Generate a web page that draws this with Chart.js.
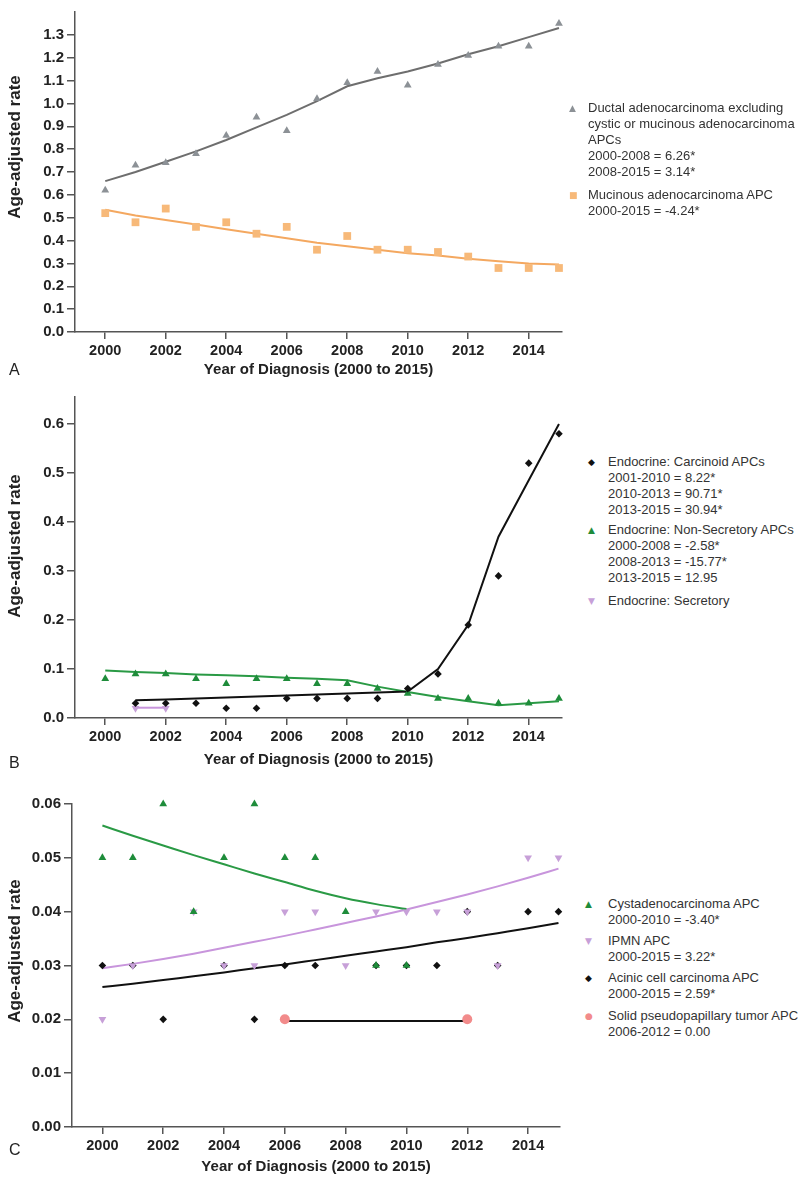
<!DOCTYPE html>
<html>
<head>
<meta charset="utf-8">
<script src="https://cdn.jsdelivr.net/npm/chart.js@4.4.1/dist/chart.umd.min.js"></script>
<style>
body { margin: 0; background: #fff; }
#page { position: relative; width: 800px; height: 1179px; font-family: "Liberation Sans", Arial, sans-serif; }
canvas { position: absolute; left: 0; }
.leg { position: absolute; font-size: 13px; line-height: 16px; color: #333; white-space: nowrap; }
.mk { position: absolute; font-family: "DejaVu Sans", sans-serif; font-size: 9px; line-height: 16px; }
.letter { position: absolute; font-size: 16px; color: #222; }
.ytitle { position: absolute; width: 200px; height: 20px; line-height: 20px; text-align: center;
          font-size: 17px; font-weight: bold; color: #222; transform: rotate(-90deg); }
</style>
</head>
<body>
<div id="page">
  <canvas id="chartA" width="575" height="380" style="top:0"></canvas>
  <canvas id="chartB" width="575" height="385" style="top:385px"></canvas>
  <canvas id="chartC" width="575" height="409" style="top:770px"></canvas>

  <div class="ytitle" style="left:-85px;top:137px">Age-adjusted rate</div>
  <div class="ytitle" style="left:-85px;top:536px">Age-adjusted rate</div>
  <div class="ytitle" style="left:-85px;top:941px">Age-adjusted rate</div>

  <div class="letter" style="left:9px;top:361px">A</div>
  <div class="letter" style="left:9px;top:754px">B</div>
  <div class="letter" style="left:9px;top:1141px">C</div>

  <!-- legend A -->
  <span class="mk" style="left:569px;top:100px;color:#8c9196">&#9650;</span>
  <div class="leg" style="left:588px;top:100px">Ductal adenocarcinoma excluding<br>cystic or mucinous adenocarcinoma<br>APCs<br>2000-2008 = 6.26*<br>2008-2015 = 3.14*</div>
  <span class="mk" style="left:569px;top:187px;color:#f7b979">&#9632;</span>
  <div class="leg" style="left:588px;top:187px">Mucinous adenocarcinoma APC<br>2000-2015 = -4.24*</div>

  <!-- legend B -->
  <span class="mk" style="left:588px;top:454px;color:#111">&#9670;</span>
  <div class="leg" style="left:608px;top:454px">Endocrine: Carcinoid APCs<br>2001-2010 = 8.22*<br>2010-2013 = 90.71*<br>2013-2015 = 30.94*</div>
  <span class="mk" style="left:588px;top:522px;color:#1e8c3a">&#9650;</span>
  <div class="leg" style="left:608px;top:522px">Endocrine: Non-Secretory APCs<br>2000-2008 = -2.58*<br>2008-2013 = -15.77*<br>2013-2015 = 12.95</div>
  <span class="mk" style="left:588px;top:593px;color:#c7a0d8">&#9660;</span>
  <div class="leg" style="left:608px;top:593px">Endocrine: Secretory</div>

  <!-- legend C -->
  <span class="mk" style="left:585px;top:896px;color:#1e8c3a">&#9650;</span>
  <div class="leg" style="left:608px;top:896px">Cystadenocarcinoma APC<br>2000-2010 = -3.40*</div>
  <span class="mk" style="left:585px;top:933px;color:#c7a0d8">&#9660;</span>
  <div class="leg" style="left:608px;top:933px">IPMN APC<br>2000-2015 = 3.22*</div>
  <span class="mk" style="left:585px;top:970px;color:#111">&#9670;</span>
  <div class="leg" style="left:608px;top:970px">Acinic cell carcinoma APC<br>2000-2015 = 2.59*</div>
  <span class="mk" style="left:585px;top:1008px;color:#f28b8b">&#9679;</span>
  <div class="leg" style="left:608px;top:1008px">Solid pseudopapillary tumor APC<br>2006-2012 = 0.00</div>
</div>

<script>
// years of diagnosis and x tick labels
const years = [2000, 2001, 2002, 2003, 2004, 2005, 2006, 2007, 2008, 2009, 2010, 2011, 2012, 2013, 2014, 2015];
const xTicks = [2000, 2002, 2004, 2006, 2008, 2010, 2012, 2014];

// panel A
const ductalRates = [0.62, 0.73, 0.74, 0.78, 0.86, 0.94, 0.88, 1.02, 1.09, 1.14, 1.08, 1.17, 1.21, 1.25, 1.25, 1.35];
const ductalFit = [0.66, 0.70, 0.745, 0.79, 0.84, 0.895, 0.95, 1.01, 1.075, 1.11, 1.14, 1.175, 1.215, 1.25, 1.29, 1.33];
const mucinousRates = [0.52, 0.48, 0.54, 0.46, 0.48, 0.43, 0.46, 0.36, 0.42, 0.36, 0.36, 0.35, 0.33, 0.28, 0.28, 0.28];
const mucinousFit = [0.535, 0.51, 0.49, 0.47, 0.45, 0.43, 0.41, 0.39, 0.375, 0.36, 0.345, 0.335, 0.32, 0.31, 0.30, 0.295];
const yTicksA = [0.0, 0.1, 0.2, 0.3, 0.4, 0.5, 0.6, 0.7, 0.8, 0.9, 1.0, 1.1, 1.2, 1.3];

// panel B
const carcinoidRates = [null, 0.03, 0.03, 0.03, 0.02, 0.02, 0.04, 0.04, 0.04, 0.04, 0.06, 0.09, 0.19, 0.29, 0.52, 0.58];
const carcinoidFit = [null, 0.036, 0.038, 0.040, 0.042, 0.044, 0.046, 0.048, 0.050, 0.052, 0.054, 0.10, 0.19, 0.37, 0.485, 0.60];
const nonSecretoryRates = [0.08, 0.09, 0.09, 0.08, 0.07, 0.08, 0.08, 0.07, 0.07, 0.06, 0.05, 0.04, 0.04, 0.03, 0.03, 0.04];
const nonSecretoryFit = [0.097, 0.094, 0.092, 0.089, 0.087, 0.085, 0.082, 0.080, 0.077, 0.064, 0.053, 0.043, 0.034, 0.026, 0.030, 0.034];
const secretoryRates = [null, 0.02, 0.02, null, null, null, null, null, null, null, null, null, null, null, null, null];
const secretoryFit = [null, 0.021, 0.021, null, null, null, null, null, null, null, null, null, null, null, null, null];
const yTicksB = [0.0, 0.1, 0.2, 0.3, 0.4, 0.5, 0.6];

// panel C
const cystRates = [0.05, 0.05, 0.06, 0.04, 0.05, 0.06, 0.05, 0.05, 0.04, 0.03, 0.03, null, null, null, null, null];
const cystFit = [0.056, 0.0541, 0.0523, 0.0505, 0.0488, 0.0471, 0.0455, 0.0439, 0.0425, 0.0414, 0.0405, null, null, null, null, null];
const ipmnRates = [0.02, 0.03, null, 0.04, 0.03, 0.03, 0.04, 0.04, 0.03, 0.04, 0.04, 0.04, 0.04, 0.03, 0.05, 0.05];
const ipmnFit = [0.0295, 0.0303, 0.0312, 0.0322, 0.0333, 0.0344, 0.0355, 0.0367, 0.0379, 0.0391, 0.0404, 0.0418, 0.0432, 0.0447, 0.0463, 0.048];
const acinicRates = [0.03, 0.03, 0.02, null, 0.03, 0.02, 0.03, 0.03, null, 0.03, 0.03, 0.03, 0.04, 0.03, 0.04, 0.04];
const acinicFit = [0.026, 0.0266, 0.0273, 0.028, 0.0287, 0.0295, 0.0302, 0.031, 0.0318, 0.0326, 0.0334, 0.0343, 0.0351, 0.036, 0.0369, 0.0379];
const solidRates = [null, null, null, null, null, null, 0.02, null, null, null, null, null, 0.02, null, null, null];
const solidFit = [null, null, null, null, null, null, 0.0197, 0.0197, 0.0197, 0.0197, 0.0197, 0.0197, 0.0197, null, null, null];
const yTicksC = [0.00, 0.01, 0.02, 0.03, 0.04, 0.05, 0.06];

Chart.defaults.font.family = '"Liberation Sans", Arial, sans-serif';

// turn a value list into {x, y} points, skipping missing years
function pts(vals) {
    return years.map((yr, i) => ({ x: yr, y: vals[i] })).filter(p => p.y !== null);
}

function dots(vals, color, style, radius, order, rotation) {
    return {
        data: pts(vals), showLine: false, pointStyle: style, pointRadius: radius,
        pointRotation: rotation || 0, backgroundColor: color, borderColor: color,
        pointBorderWidth: 0, order: order, clip: false
    };
}

function fitLine(vals, color, order, smooth) {
    const ds = {
        data: pts(vals), borderColor: color, borderWidth: 2, pointRadius: 0,
        tension: 0, fill: false, order: order, clip: false
    };
    if (smooth) ds.cubicInterpolationMode = 'monotone';
    return ds;
}

function panelChart(id, o) {
    return new Chart(document.getElementById(id), {
        type: 'line',
        data: { datasets: o.datasets },
        options: {
            responsive: false,
            animation: false,
            layout: { padding: { top: o.padTop, right: o.padRight, left: 0, bottom: 0 } },
            plugins: { legend: { display: false }, tooltip: { enabled: false } },
            scales: {
                x: {
                    type: 'linear', min: 1999, max: o.xMax,
                    afterBuildTicks: s => { s.ticks = xTicks.map(v => ({ value: v })); },
                    afterFit: s => { s.height = o.xHeight; },
                    border: { color: '#555', width: 1.5 },
                    grid: { drawOnChartArea: false, tickLength: 7, color: '#555', lineWidth: 1.5 },
                    ticks: { color: '#222', font: { size: 14.5, weight: 'bold' }, padding: 3, maxRotation: 0, callback: v => String(v) },
                    title: { display: true, text: 'Year of Diagnosis (2000 to 2015)', color: '#222',
                             font: { size: 15, weight: 'bold' }, padding: { top: 0, bottom: o.titlePad } }
                },
                y: {
                    min: 0, max: o.yMax,
                    afterBuildTicks: s => { s.ticks = o.yTicks.map(v => ({ value: v })); },
                    afterFit: s => { s.width = o.yWidth; },
                    border: { color: '#555', width: 1.5 },
                    grid: { drawOnChartArea: false, tickLength: 8, color: '#555', lineWidth: 1.5 },
                    ticks: { color: '#222', font: { size: 15, weight: 'bold' }, padding: 3, callback: v => v.toFixed(o.dec) }
                }
            }
        }
    });
}

panelChart('chartA', {
    padTop: 9, padRight: 13, xMax: 2015.1, xHeight: 48, titlePad: 1.5,
    yMax: 1.4, yTicks: yTicksA, yWidth: 75, dec: 1,
    datasets: [
        fitLine(ductalFit, '#6e6e6e', 3),
        dots(ductalRates, '#8c9196', 'triangle', 4.5, 1),
        fitLine(mucinousFit, '#f4a860', 4),
        dots(mucinousRates, '#f7b979', 'rect', 5.5, 2)
    ]
});

panelChart('chartB', {
    padTop: 8, padRight: 13, xMax: 2015.1, xHeight: 52, titlePad: 1.5,
    yMax: 0.655, yTicks: yTicksB, yWidth: 75, dec: 1,
    datasets: [
        fitLine(carcinoidFit, '#111', 4),
        dots(carcinoidRates, '#111', 'rectRot', 3.8, 1),
        fitLine(nonSecretoryFit, '#2a9a45', 5),
        dots(nonSecretoryRates, '#1e8c3a', 'triangle', 4.5, 2),
        fitLine(secretoryFit, '#c895dc', 6),
        dots(secretoryRates, '#c7a0d8', 'triangle', 4.5, 3, 180)
    ]
});

panelChart('chartC', {
    padTop: 34, padRight: 15, xMax: 2015.05, xHeight: 52, titlePad: 3,
    yMax: 0.06, yTicks: yTicksC, yWidth: 72, dec: 2,
    datasets: [
        fitLine(cystFit, '#2a9a45', 5, true),
        dots(cystRates, '#1e8c3a', 'triangle', 4.5, 1),
        fitLine(ipmnFit, '#c895dc', 6, true),
        dots(ipmnRates, '#c7a0d8', 'triangle', 4.5, 2, 180),
        fitLine(acinicFit, '#111', 7, true),
        dots(acinicRates, '#111', 'rectRot', 3.8, 3),
        fitLine(solidFit, '#111', 8),
        dots(solidRates, '#f28b8b', 'circle', 5, 4)
    ]
});
</script>
</body>
</html>
